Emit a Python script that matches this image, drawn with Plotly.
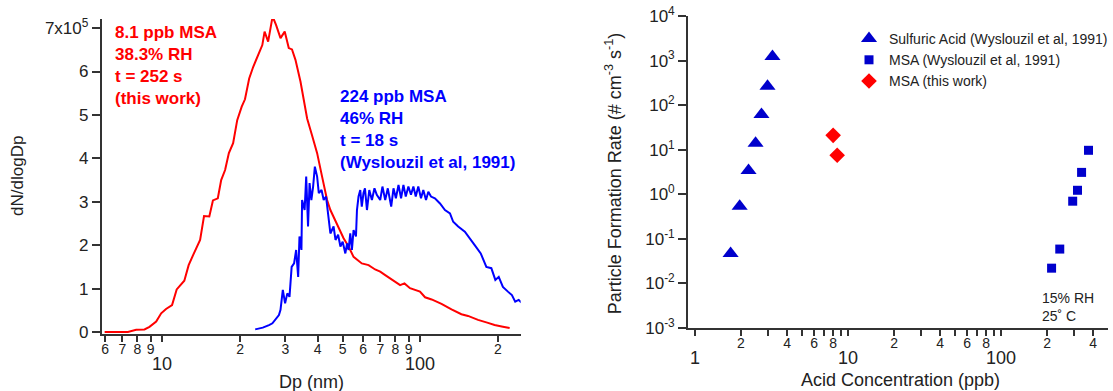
import math
import plotly.graph_objects as go

# ---------------- Left panel data (dN/dlogDp in units of 1e5) ----------------
red_dp = [5.97, 7.35, 7.91, 8.52, 8.91, 9.46, 9.89, 10.33, 10.9, 11.36, 12.16, 12.64, 13.1, 14.0,
          14.5, 15.2, 15.7, 16.4, 16.9, 17.5, 18.1, 18.8, 19.5, 20.3, 20.9, 21.7, 22.5, 23.5, 24.4,
          24.9, 25.7, 26.6, 27.0, 27.6, 28.7, 29.8, 30.9, 31.8, 32.8, 34.3, 35.3, 36.4, 38.0, 39.8,
          41.6, 43.5, 44.8, 47.5, 50.4, 52.7, 55.1, 59.3, 63.0, 66.8, 69.9, 73.1, 77.5, 83.5, 86.8,
          91.2, 99.7, 104.3, 110.6, 120.8, 132.1, 144.3, 153.1, 167.4, 183.0, 194.0, 209.0, 222.0]
red_n = [0.0, 0.0, 0.05, 0.06, 0.12, 0.24, 0.43, 0.53, 0.62, 0.98, 1.18, 1.54, 1.75, 2.12,
         2.67, 2.66, 3.03, 3.08, 3.50, 3.73, 4.12, 4.35, 4.88, 5.19, 5.36, 5.84, 6.11, 6.38, 6.61,
         6.92, 6.69, 7.19, 7.21, 7.07, 6.77, 6.92, 6.54, 6.51, 6.27, 5.77, 5.35, 4.92, 4.54, 4.12,
         3.58, 3.04, 2.81, 2.50, 2.16, 1.97, 1.73, 1.58, 1.54, 1.44, 1.39, 1.31, 1.21, 1.08, 1.12,
         1.01, 0.93, 0.80, 0.75, 0.65, 0.52, 0.41, 0.37, 0.28, 0.21, 0.16, 0.12, 0.09]

blue_dp = [22.9, 24.5, 25.9, 26.7, 28.3, 28.7, 29.3, 29.9, 30.5, 31.1, 31.7, 32.4, 33.0, 33.6, 34.0,
           34.6, 34.8, 35.6, 36.1, 36.7, 37.2, 37.8, 38.4, 39.0, 39.8, 40.4, 41.4, 42.2, 43.1, 44.1,
           44.8, 46.1, 46.9, 48.0, 49.0, 50.0, 51.2, 52.0, 52.7, 53.5, 54.3, 55.1, 56.3, 56.8, 57.6,
           58.5, 59.3, 60.2, 61.0, 62.1, 63.4, 64.9, 66.4, 67.8, 69.9, 71.3, 73.1, 74.8, 77.1, 78.7,
           80.4, 82.3, 84.2, 86.0, 87.8, 89.9, 92.0, 94.0, 96.0, 98.2, 100.6, 102.7, 105.2, 107.4,
           110.0, 113.9, 119.2, 124.6, 130.3, 134.1, 140.2, 148.8, 153.2, 162.5, 171.5, 180.3, 188.5,
           195.4, 201.4, 209.0, 218.6, 226.5, 233.3, 240.6, 246.4]
blue_n = [0.06, 0.10, 0.16, 0.20, 0.39, 0.51, 0.97, 0.66, 0.89, 0.81, 1.50, 1.58, 1.89, 1.27, 2.20,
          1.89, 3.04, 2.81, 3.58, 2.43, 3.43, 3.04, 3.35, 3.81, 3.58, 3.20, 3.27, 3.04, 3.12, 2.66,
          2.27, 2.43, 2.12, 2.24, 1.97, 2.08, 1.81, 2.04, 1.89, 2.27, 1.89, 2.35, 2.20, 2.81, 3.12,
          3.27, 2.89, 3.20, 3.31, 2.81, 3.27, 3.04, 3.31, 3.16, 3.04, 3.35, 3.04, 3.31, 2.89, 3.31,
          3.08, 3.39, 3.08, 3.39, 3.12, 3.35, 3.16, 3.35, 3.12, 3.35, 3.08, 3.27, 3.04, 3.23,
          3.12, 3.08, 2.96, 2.81, 2.73, 2.54, 2.43, 2.31, 2.20, 2.00, 1.81, 1.50, 1.47,
          1.20, 1.27, 1.04, 0.93, 0.85, 0.70, 0.74, 0.68]

left_xtick_vals = [6, 7, 8, 9, 10, 20, 30, 40, 50, 60, 70, 80, 90, 100, 200]
left_xtick_text = ["6", "7", "8", "9", "10", "2", "3", "4", "5", "6", "7", "8", "9", "100", "2"]
left_major = [10, 100]
left_ytick_vals = [0, 1, 2, 3, 4, 5, 6, 7]
left_ytick_text = ["0", "1", "2", "3", "4", "5", "6", "7x10<sup>5</sup>"]

# ---------------- Right panel data ----------------
sa_conc = [1.71, 1.96, 2.24, 2.49, 2.72, 2.98, 3.21]
sa_rate = [0.047, 0.54, 3.4, 13.9, 62, 265, 1240]
msa91_conc = [214, 242, 294, 316, 336, 373]
msa91_rate = [0.022, 0.059, 0.70, 1.23, 3.1, 9.7]
msa_conc = [8.0, 8.5]
msa_rate = [21, 7.5]

right_xtick_vals = [1, 2, 3, 4, 5, 6, 7, 8, 9, 10, 20, 30, 40, 50, 60, 70, 80, 90, 100, 200, 300, 400]
right_xtick_text = ["1", "2", "", "4", "", "6", "", "8", "", "10", "2", "", "4", "", "6", "", "8", "",
                    "100", "2", "", "4"]
right_major = [1, 10, 100]
right_ytick_vals = [1e-3, 1e-2, 1e-1, 1e0, 1e1, 1e2, 1e3, 1e4]
right_ytick_text = ["10<sup>-3</sup>", "10<sup>-2</sup>", "10<sup>-1</sup>", "10<sup>0</sup>",
                    "10<sup>1</sup>", "10<sup>2</sup>", "10<sup>3</sup>", "10<sup>4</sup>"]

FONT = "Liberation Sans, Arial, sans-serif"
W, H = 1113, 391


def minor_only(vals, texts, majors):
    return ["" if v in majors else t for v, t in zip(vals, texts)]


fig = go.Figure()

fig.add_trace(go.Scatter(x=red_dp, y=red_n, mode="lines", line=dict(color="#ff0000", width=2),
                         showlegend=False, xaxis="x", yaxis="y"))
fig.add_trace(go.Scatter(x=blue_dp, y=blue_n, mode="lines", line=dict(color="#0000ff", width=2),
                         showlegend=False, xaxis="x", yaxis="y"))

fig.add_trace(go.Scatter(x=sa_conc, y=sa_rate, mode="markers", name="Sulfuric Acid (Wyslouzil et al, 1991)",
                         marker=dict(symbol="triangle-up", size=14, color="#0000cc"),
                         xaxis="x2", yaxis="y2"))
fig.add_trace(go.Scatter(x=msa91_conc, y=msa91_rate, mode="markers", name="MSA (Wyslouzil et al, 1991)",
                         marker=dict(symbol="square", size=9, color="#0000cc"),
                         xaxis="x2", yaxis="y2"))
fig.add_trace(go.Scatter(x=msa_conc, y=msa_rate, mode="markers", name="MSA (this work)",
                         marker=dict(symbol="diamond", size=12, color="#ff0000"),
                         xaxis="x2", yaxis="y2"))

axis_common = dict(showgrid=False, zeroline=False, showline=True, linecolor="#333333", linewidth=1.5,
                   ticks="outside", tickcolor="#333333", tickwidth=1.5, automargin=False, tickangle=0,
                   tickfont=dict(family=FONT, size=14, color="#222222"))
yfont = dict(family=FONT, size=17, color="#222222")

fig.update_layout(
    width=W, height=H,
    margin=dict(l=0, r=0, t=0, b=0),
    paper_bgcolor="white", plot_bgcolor="white",
    font=dict(family=FONT, color="#222222"),
    xaxis=dict(type="log", domain=[102 / W, 523 / W], range=[0.764, 2.389],
               tickmode="array", tickvals=left_xtick_vals,
               ticktext=minor_only(left_xtick_vals, left_xtick_text, left_major),
               ticklen=6, ticklabelstandoff=-5, anchor="y", **axis_common),
    yaxis=dict(domain=[1 - 334 / H, 1 - 19 / H], range=[-0.046, 7.21],
               tickmode="array", tickvals=left_ytick_vals, ticktext=left_ytick_text,
               ticklen=8, anchor="x", **{**axis_common, "tickfont": yfont}),
    xaxis2=dict(type="log", domain=[691 / W, 1.0], range=[-0.046, 2.699],
                tickmode="array", tickvals=right_xtick_vals,
                ticktext=minor_only(right_xtick_vals, right_xtick_text, right_major),
                ticklen=6, ticklabelstandoff=-5, anchor="y2", **axis_common),
    yaxis2=dict(type="log", domain=[1 - 328 / H, 1 - 16 / H], range=[-3, 4],
                tickmode="array", tickvals=right_ytick_vals, ticktext=right_ytick_text,
                ticklen=8, anchor="x2", **{**axis_common, "tickfont": yfont}),
    legend=dict(x=853 / W, y=1 - 23 / H, xanchor="left", yanchor="top",
                font=dict(family=FONT, size=14, color="#222222"), bgcolor="rgba(0,0,0,0)",
                tracegroupgap=0),
)

ann = []
# major decade labels (larger, set lower); log axes take annotation x in log10 units
for v, t in zip(left_xtick_vals, left_xtick_text):
    if v in left_major:
        ann.append(dict(text=t, x=math.log10(v), xref="x", y=1 - 364 / H, yref="paper", xanchor="center",
                        yanchor="middle", showarrow=False, font=dict(family=FONT, size=18, color="#222222")))
for v, t in zip(right_xtick_vals, right_xtick_text):
    if v in right_major:
        ann.append(dict(text=t, x=math.log10(v), xref="x2", y=1 - 358 / H, yref="paper", xanchor="center",
                        yanchor="middle", showarrow=False, font=dict(family=FONT, size=18, color="#222222")))

ann.append(dict(text="8.1 ppb MSA<br>38.3% RH<br>t = 252 s<br>(this work)", x=114 / W, y=1 - 21 / H,
                xref="paper", yref="paper", xanchor="left", yanchor="top", align="left", showarrow=False,
                font=dict(family=FONT, size=17, color="#ff0000", weight="bold")))
ann.append(dict(text="224 ppb MSA<br>46% RH<br>t = 18 s<br>(Wyslouzil et al, 1991)", x=340 / W, y=1 - 85 / H,
                xref="paper", yref="paper", xanchor="left", yanchor="top", align="left", showarrow=False,
                font=dict(family=FONT, size=17, color="#0000ff", weight="bold")))
ann.append(dict(text="15% RH<br>25˚ C", x=1045 / W, y=1 - 288 / H, xref="paper", yref="paper",
                xanchor="left", yanchor="top", align="left", showarrow=False,
                font=dict(family=FONT, size=14, color="#222222")))
ann.append(dict(text="Dp (nm)", x=313 / W, y=1 - 382 / H, xref="paper", yref="paper",
                xanchor="center", yanchor="middle", showarrow=False, font=dict(family=FONT, size=18)))
ann.append(dict(text="dN/dlogDp", x=17 / W, y=1 - 176 / H, xref="paper", yref="paper", textangle=-90,
                xanchor="center", yanchor="middle", showarrow=False, font=dict(family=FONT, size=17)))
ann.append(dict(text="Acid Concentration (ppb)", x=905 / W, y=1 - 380 / H, xref="paper", yref="paper",
                xanchor="center", yanchor="middle", showarrow=False, font=dict(family=FONT, size=18)))
ann.append(dict(text="Particle Formation Rate (# cm<sup>-3</sup> s<sup>-1</sup>)", x=617 / W, y=1 - 173 / H,
                xref="paper", yref="paper", textangle=-90,
                xanchor="center", yanchor="middle", showarrow=False, font=dict(family=FONT, size=18)))
fig.update_layout(annotations=ann)

fig.write_html("out.html", config={"displayModeBar": False},
               post_script="document.body.style.margin='0px';document.body.style.overflow='hidden';")
